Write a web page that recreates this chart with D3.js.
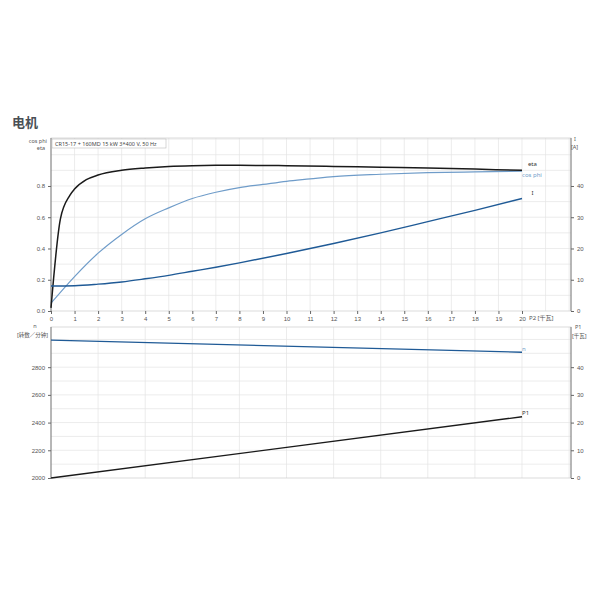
<!DOCTYPE html>
<html><head><meta charset="utf-8">
<script src="https://cdn.jsdelivr.net/npm/d3@7"></script>
<style>body{margin:0;background:#fff;font-family:"Noto Sans","Noto Sans CJK SC",sans-serif}</style>
</head><body>
<svg id="main" width="600" height="600"></svg>
<script>
const P2 = [0,0.4,0.8,1,1.5,2,3,4,5,6,7,8,10,12,14,16,18,20];
const eta = [0.02,0.59,0.74,0.78,0.84,0.87,0.9,0.915,0.925,0.93,0.932,0.932,0.93,0.925,0.92,0.915,0.908,0.9];
const cosX = [0,1,2,3,4,5,6,7,8,9,10,11,12,14,16,18,20];
const cosPhi = [0.05,0.22,0.37,0.49,0.59,0.66,0.72,0.76,0.79,0.81,0.83,0.845,0.86,0.875,0.885,0.89,0.895];
const iX = [0,1,2,3,4,5,6,7,8,10,12,14,16,18,20];
const current = [8.0,8.1,8.6,9.3,10.3,11.4,12.7,14,15.4,18.4,21.6,25,28.6,32.2,36];
const nX = [0,20];
const speed = [2995,2908];
const p1X = [0,20];
const p1 = [0,22.1];
const xTicks = d3.range(0,21);
const leftTop = [0,0.2,0.4,0.6,0.8];
const rightTop = [0,10,20,30,40];
const leftBot = [2000,2200,2400,2600,2800];
const rightBot = [0,10,20,30,40];

const svg = d3.select('svg#main');
const x = d3.scaleLinear().domain([0,22.08]).range([51,571]);
const yT = d3.scaleLinear().domain([0,1.107]).range([311,138]);
const yI = d3.scaleLinear().domain([0,55.35]).range([311,138]);
const yB = d3.scaleLinear().domain([2000,3090]).range([478,327]);
const yP = d3.scaleLinear().domain([0,54.5]).range([478,327]);
const fs = 6, tc = '#555';

svg.append('text').attr('x',12).attr('y',127).text('电机')
  .attr('font-size',13).attr('font-weight','bold').attr('fill','#4a4f55');

function grid(yS, yvals, xvals, top, bot){
  const g = svg.append('g').attr('stroke','#e4e4e4').attr('stroke-width',0.7);
  xvals.forEach(v=>g.append('line').attr('x1',x(v)).attr('x2',x(v)).attr('y1',top).attr('y2',bot));
  yvals.forEach(v=>g.append('line').attr('x1',51).attr('x2',571).attr('y1',yS(v)).attr('y2',yS(v)));
  svg.append('rect').attr('x',51).attr('y',top).attr('width',520).attr('height',bot-top)
    .attr('fill','none').attr('stroke','#ccc').attr('stroke-width',0.7);
}
grid(yT, d3.range(0.1,1.11,0.1), d3.range(1,23), 138, 311);
grid(yB, d3.range(2100,3091,100), d3.range(2,23,2), 327, 478);

function axis(gen, tx, ty){
  const g = svg.append('g').attr('transform',`translate(${tx},${ty})`).call(gen);
  g.selectAll('text').attr('font-size',fs).attr('fill',tc);
  g.selectAll('line,path').attr('stroke','#666');
  g.select('.domain').remove();
  return g;
}
axis(d3.axisBottom(x).tickValues(xTicks).tickSize(3).tickFormat(d3.format('d')),0,311);
axis(d3.axisLeft(yT).tickValues(leftTop).tickSize(3).tickFormat(d3.format('.1f')),51,0);
axis(d3.axisRight(yI).tickValues(rightTop).tickSize(3),571,0);
axis(d3.axisLeft(yB).tickValues(leftBot).tickSize(3).tickFormat(d3.format('d')),51,0);
axis(d3.axisRight(yP).tickValues(rightBot).tickSize(3),571,0);
[[51,138,311],[571,138,311],[51,327,478],[571,327,478]].forEach(a=>
  svg.append('line').attr('x1',a[0]).attr('x2',a[0]).attr('y1',a[1]).attr('y2',a[2]).attr('stroke','#666').attr('stroke-width',0.8));

function lbl(t,xx,yy,anchor,col,size){svg.append('text').attr('x',xx).attr('y',yy).attr('font-size',size||fs)
  .attr('text-anchor',anchor||'start').attr('fill',col||tc).text(t);}
lbl('cos phi',47,143,'end',tc,5.5); lbl('eta',45,150,'end',tc,5.5);
lbl('I',574,141,'start',tc,5.5); lbl('[A]',571,149,'start',tc,5.5);
lbl('P2 [千瓦]',529,320,'start');
lbl('n',35,328,'middle',tc,5.5); lbl('[转数／分钟]',48,337,'end',tc,5.5);
lbl('P1',575,329,'start',tc,5.5); lbl('[千瓦]',572,338,'start',tc,5.5);

svg.append('rect').attr('x',52).attr('y',139).attr('width',114).attr('height',9).attr('fill','#fff').attr('stroke','#bbb').attr('stroke-width',0.6);
lbl('CR15-17 + 160MD   15 kW   3*400 V, 50 Hz',55,146,'start','#444',5.5);

const line = (xs,ys,yS)=>d3.line().curve(d3.curveMonotoneX).x((d,i)=>x(xs[i])).y(d=>yS(d))(ys);
function path(xs,ys,yS,col,w){svg.append('path').attr('d',line(xs,ys,yS)).attr('fill','none').attr('stroke',col).attr('stroke-width',w||1.4);}
path(cosX,cosPhi,yT,'#6f9cc9',1.2);
path(P2,eta,yT,'#1a1a1a',1.5);
path(iX,current,yI,'#1f5a96',1.4);
path(nX,speed,yB,'#1f5a96',1.4);
path(p1X,p1,yP,'#1a1a1a',1.4);
lbl('eta',x(20.25),yT(0.93),'start','#333');
lbl('cos phi',x(20),yT(0.86),'start','#6f9cc9');
lbl('I',x(20.4),yI(37),'start','#333');
lbl('n',x(20),yB(2920),'start','#6f9cc9');
lbl('P1',x(20),yP(22.8),'start','#333');
</script>
</body></html>
